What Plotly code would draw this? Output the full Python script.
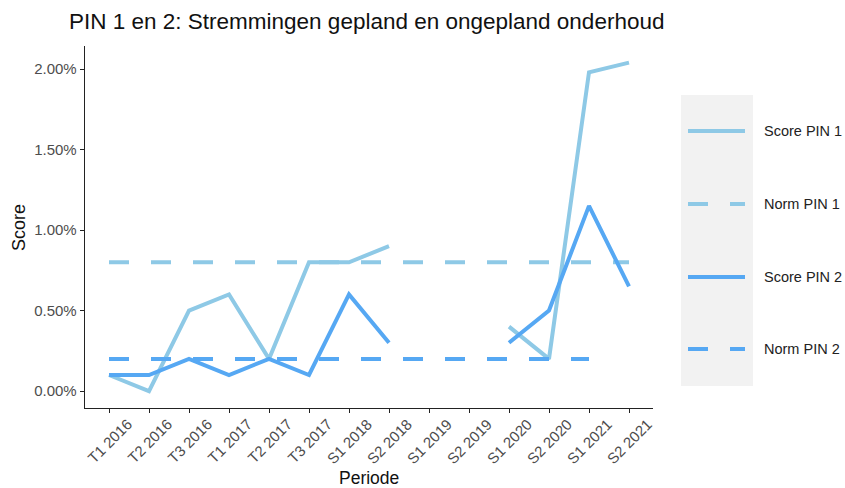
import plotly.graph_objects as go

periods = ["T1 2016", "T2 2016", "T3 2016", "T1 2017", "T2 2017", "T3 2017",
           "S1 2018", "S2 2018", "S1 2019", "S2 2019", "S1 2020", "S2 2020",
           "S1 2021", "S2 2021"]
score_pin1 = [0.001, 0.000, 0.005, 0.006, 0.002, 0.008, 0.008, 0.009,
              None, None, 0.004, 0.002, 0.0198, 0.0204]
score_pin2 = [0.001, 0.001, 0.002, 0.001, 0.002, 0.001, 0.006, 0.003,
              None, None, 0.003, 0.005, 0.0115, 0.0065]
norm_pin1 = [0.008] * 14
norm_pin2 = [0.002] * 13 + [None]
series_names = ["Score PIN 1", "Norm PIN 1", "Score PIN 2", "Norm PIN 2"]
y_ticks = [0, 0.005, 0.01, 0.015, 0.02]

c1 = "#8ec9e6"
c2 = "#56a8f3"
dash = "20px,22px"
W = 4

FW, FH = 845, 488

fig = go.Figure()
styles = [(score_pin1, c1, "solid"), (norm_pin1, c1, dash),
          (score_pin2, c2, "solid"), (norm_pin2, c2, dash)]
for name, (vals, col, d) in zip(series_names, styles):
    fig.add_trace(go.Scatter(x=periods, y=vals, mode="lines", name=name,
                             line=dict(color=col, width=W, dash=d),
                             connectgaps=False, showlegend=False,
                             hoverinfo="skip"))

# plot area in reference pixels
L, R, T, B = 85, 653, 46, 408
def px(x):
    return (x - L) / (R - L)
def py(y):
    return (B - y) / (B - T)

shapes = [dict(type="rect", xref="paper", yref="paper", x0=px(681), x1=px(753),
               y0=py(386), y1=py(95), fillcolor="#f2f2f2", line=dict(width=0),
               layer="below")]
annos = []
key_y = [131, 204, 277, 349]
for name, (vals, col, d), ky in zip(series_names, styles, key_y):
    shapes.append(dict(type="line", xref="paper", yref="paper",
                       x0=px(688), x1=px(745), y0=py(ky), y1=py(ky),
                       line=dict(color=col, width=W, dash=d)))
    annos.append(dict(text=name, xref="paper", yref="paper", x=px(762), y=py(ky),
                      xanchor="left", yanchor="middle", showarrow=False,
                      font=dict(size=14.5, color="#222222")))

# rotated category labels, centred under each tick (ggplot-style)
for p in periods:
    annos.append(dict(text=p, x=p, xref="x", y=py(441), yref="paper",
                      xanchor="center", yanchor="middle", textangle=-45,
                      showarrow=False, font=dict(size=15, color="#4d4d4d")))

annos.append(dict(text="Periode", xref="paper", yref="paper", x=0.5, y=py(478),
                  xanchor="center", yanchor="middle", showarrow=False,
                  font=dict(size=17.5, color="#111111")))
annos.append(dict(text="Score", xref="paper", yref="paper", x=px(19), y=py(228),
                  xanchor="center", yanchor="middle", textangle=-90, showarrow=False,
                  font=dict(size=18, color="#111111")))
annos.append(dict(text="PIN 1 en 2: Stremmingen gepland en ongepland onderhoud",
                  xref="paper", yref="paper", x=px(67), y=py(22),
                  xanchor="left", yanchor="middle", showarrow=False,
                  font=dict(size=22.5, color="#111111")))

fig.update_layout(
    width=FW, height=FH,
    margin=dict(l=L, r=FW - R, t=T, b=FH - B, autoexpand=False),
    paper_bgcolor="white", plot_bgcolor="white",
    font=dict(family="Liberation Sans, Arial, sans-serif"),
    hovermode=False,
    xaxis=dict(type="category", categoryorder="array", categoryarray=periods,
               range=[-0.6, 13.6], showgrid=False, showline=True,
               linecolor="#222222", linewidth=1.3, ticks="outside", ticklen=4,
               tickcolor="#222222", showticklabels=False),
    yaxis=dict(range=[-0.00105, 0.02143], tickvals=y_ticks,
               tickformat=".2%", showgrid=False, zeroline=False, showline=True,
               linecolor="#222222", linewidth=1.3, ticks="outside", ticklen=4,
               tickcolor="#222222", tickfont=dict(size=15, color="#4d4d4d")),
    shapes=shapes, annotations=annos,
)

fig.write_html("out.html",
               config={"displayModeBar": False, "staticPlot": True},
               post_script="document.body.style.margin='0px';"
                           "document.body.style.overflow='hidden';")
